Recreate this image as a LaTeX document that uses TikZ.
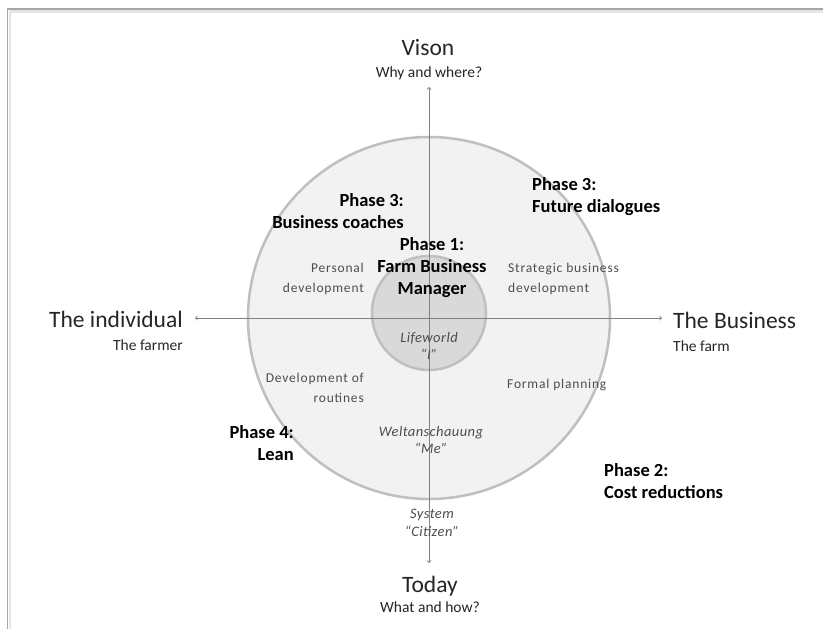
\documentclass[tikz,border=0pt]{standalone}
\usepackage{fontspec}
\setmainfont{Carlito}
\usetikzlibrary{positioning,arrows}

\definecolor{ringline}{HTML}{BFBFBF}
\definecolor{ringfill}{HTML}{F2F2F2}
\definecolor{corefill}{HTML}{D9D9D9}
\definecolor{axisgray}{HTML}{808080}
\definecolor{textgray}{HTML}{262626}
\definecolor{topicgray}{HTML}{4D4D4D}

\begin{document}
\begin{tikzpicture}[x=1pt,y=-1pt,>=to,
  ring/.style={circle,draw=ringline,line width=2.5pt,inner sep=0pt},
  axis/.style={draw=axisgray,line width=0.9pt,<->},
  heading/.style={font=\fontsize{23.5}{28}\selectfont,text=textgray,inner sep=0pt},
  subheading/.style={font=\fontsize{15.5}{18}\selectfont,text=textgray,inner sep=0pt},
  phase/.style={font=\bfseries\fontsize{18.5}{22}\selectfont,inner sep=0pt},
  topic/.style={font=\fontsize{13.5}{19.5}\selectfont\addfontfeatures{LetterSpace=6},text=topicgray,inner sep=0pt},
  world/.style={font=\itshape\fontsize{14.5}{17.5}\selectfont\addfontfeatures{LetterSpace=3},text=topicgray,inner sep=0pt,align=center}]
\useasboundingbox (0,0) rectangle (823,629);
\fill[white] (0,0) rectangle (823,629);

%frame
\draw[gray!20,line width=2.5pt] (10,11.5) -- (823,11.5);
\draw[gray!20,line width=2pt] (9.5,11) -- (9.5,629);
\draw[gray!70,line width=1.3pt] (7.5,629) -- (7.5,9) -- (823,9);

%circles
\node[ring,fill=ringfill,minimum size=362pt] (world) at (429,318) {};
\node[ring,fill=corefill,minimum size=114pt] (life) at (429,313) {};

%axes
\coordinate (north) at (429,87);
\coordinate (south) at (429,563);
\coordinate (west) at (195,318);
\coordinate (east) at (662,318);
\draw[axis] (north) -- (south);
\draw[axis] (west) -- (east);

%headings
\node[heading,anchor=base] (vison) at (428,55) {Vison};
\node[subheading,anchor=base] (why) at (429,77) {Why and where?};
\node[heading,anchor=base] (today) at (430,592) {Today};
\node[subheading,anchor=base] (what) at (430,612) {What and how?};
\node[heading,anchor=base east] (indiv) at (183,327) {The individual};
\node[subheading,anchor=base east] (farmer) at (183,350) {The farmer};
\node[heading,anchor=base west] (business) at (673,328) {The Business};
\node[subheading,anchor=base west] (farm) at (673,351) {The farm};

%phases
\node[phase,align=right,anchor=east] (coaches) at (404,211) {Phase 3:\\Business coaches};
\node[phase,align=left,anchor=west] (dialogues) at (532,197) {Phase 3:\\Future dialogues};
\node[phase,align=center] (manager) at (432,268) {Phase 1:\\Farm Business\\Manager};
\node[phase,align=right,anchor=east] (lean) at (294,443) {Phase 4:\\Lean};
\node[phase,align=left,anchor=west] (cost) at (604,481) {Phase 2:\\Cost reductions};

%topics
\node[topic,align=right,anchor=east] (personal) at (364,279) {Personal\\development};
\node[topic,align=left,anchor=west] (strategic) at (508,279) {Strategic business\\development};
\node[topic,align=right,anchor=east] (routines) at (364,388) {Development of\\routines};
\node[topic,anchor=west] (planning) at (507,385) {Formal planning};

%worlds
\node[world] (lifeworld) at (429,346) {Lifeworld\\``I''};
\node[world] (weltan) at (431,440) {Weltanschauung\\``Me''};
\node[world] (system) at (432,523) {System\\``Citizen''};
\end{tikzpicture}
\end{document}
